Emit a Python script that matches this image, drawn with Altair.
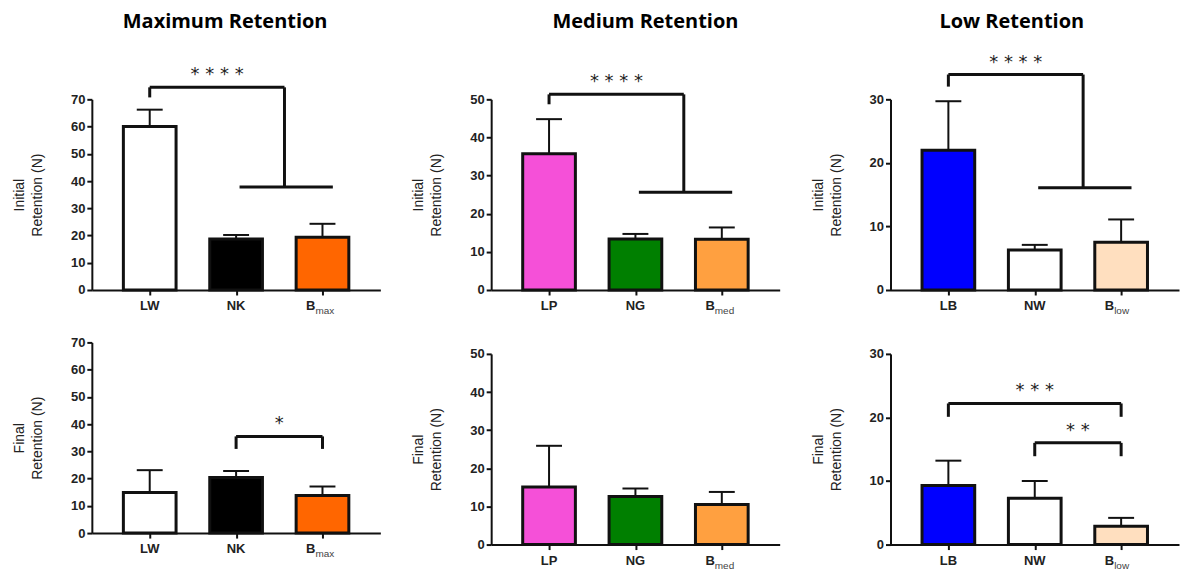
import altair as alt
import pandas as pd

# ---------------- data ----------------
# Maximum-retention attachments
max_groups = ["LW", "NK", "B"]
max_subs = ["", "", "max"]
max_colors = ["#FFFFFF", "#000000", "#FF6600"]
max_initial_mean = [60.0, 18.7, 19.4]
max_initial_sd = [6.2, 1.5, 4.9]
max_final_mean = [14.9, 20.4, 13.8]
max_final_sd = [8.2, 2.4, 3.3]

# Medium-retention attachments
med_groups = ["LP", "NG", "B"]
med_subs = ["", "", "med"]
med_colors = ["#F550D8", "#007F00", "#FFA040"]
med_initial_mean = [35.7, 13.4, 13.3]
med_initial_sd = [9.1, 1.3, 3.1]
med_final_mean = [15.1, 12.6, 10.5]
med_final_sd = [10.8, 2.1, 3.3]

# Low-retention attachments
low_groups = ["LB", "NW", "B"]
low_subs = ["", "", "low"]
low_colors = ["#0000FF", "#FFFFFF", "#FFDFBF"]
low_initial_mean = [22.0, 6.3, 7.5]
low_initial_sd = [7.7, 0.8, 3.6]
low_final_mean = [9.3, 7.3, 2.9]
low_final_sd = [3.9, 2.7, 1.3]

# significance: one group against the other two (label, group, top y, leg end y, base y)
max_initial_sig = [("****", 0, 74.4, 70.7, 37.8)]
med_initial_sig = [("****", 0, 51.3, 48.7, 25.6)]
low_initial_sig = [("****", 0, 33.9, 32.0, 16.1)]
# significance: pairwise (label, group a, group b, top y, leg end y)
max_final_pairs = [("*", 1, 2, 35.5, 30.9)]
med_final_pairs = []
low_final_pairs = [("***", 0, 2, 22.2, 20.1), ("**", 1, 2, 16.0, 13.9)]

# ---------------- styling ----------------
W, H = 289, 191
HALF = 0.305          # half bar width, in group units
CAP = 0.15            # half error-cap width
X_DOMAIN = [-0.67, 2.67]
TICK_FONT = "Liberation Sans"
TITLE_FONT = "Open Sans"
INK = "#111111"


def build_segments(one_vs_rest, pairs):
    segs, stars = [], []
    for label, g, y_top, y_leg, y_base in one_vs_rest:
        lo, hi = g + 1.04, g + 2.12
        mid = (lo + hi) / 2 - 0.02
        segs += [
            dict(x=g, x2=g, y=y_leg, y2=y_top),
            dict(x=g, x2=mid, y=y_top, y2=y_top),
            dict(x=mid, x2=mid, y=y_base, y2=y_top),
            dict(x=lo, x2=hi, y=y_base, y2=y_base),
        ]
        stars.append(dict(x=(g + mid) / 2, y=y_top, s=" ".join(label)))
    for label, a, b, y_top, y_leg in pairs:
        segs += [
            dict(x=a, x2=a, y=y_leg, y2=y_top),
            dict(x=a, x2=b, y=y_top, y2=y_top),
            dict(x=b, x2=b, y=y_leg, y2=y_top),
        ]
        stars.append(dict(x=(a + b) / 2, y=y_top, s=" ".join(label)))
    return pd.DataFrame(segs), pd.DataFrame(stars)


def panel(groups, subs, colors, means, sds, ymax, ytitle,
          one_vs_rest=(), pairs=(), title=None, title_x=0):
    df = pd.DataFrame({
        "pos": list(range(len(groups))), "group": groups, "sub": subs,
        "color": colors, "mean": means, "sd": sds,
    })
    df["left"] = df["pos"] - HALF
    df["right"] = df["pos"] + HALF
    df["zero"] = 0.0
    df["top"] = df["mean"] + df["sd"]
    df["cap_l"] = df["pos"] - CAP
    df["cap_r"] = df["pos"] + CAP

    xs = alt.Scale(domain=X_DOMAIN, nice=False, zero=False)
    ys = alt.Scale(domain=[0, ymax], nice=False, zero=True)
    x_axis = alt.Axis(values=[0, 1, 2], labels=False, title=None, grid=False,
                      tickSize=5, tickWidth=2, domainWidth=2,
                      domainColor=INK, tickColor=INK)
    y_axis = alt.Axis(values=list(range(0, ymax + 1, 10)), grid=False,
                      title=ytitle, titleFont=TICK_FONT, titleFontSize=14,
                      titleFontWeight="normal", titleColor="#222222",
                      titleLineHeight=18, titlePadding=26,
                      labelFont=TICK_FONT, labelFontSize=13,
                      labelFontWeight="bold", labelColor="#222222",
                      labelPadding=2, tickSize=5, tickWidth=2, domainWidth=2,
                      domainColor=INK, tickColor=INK)

    def X(field):
        return alt.X(field, type="quantitative", scale=xs, axis=x_axis)

    def Y(field):
        return alt.Y(field, type="quantitative", scale=ys, axis=y_axis)

    base = alt.Chart(df)
    bars = base.mark_bar(stroke=INK, strokeWidth=3).encode(
        x=X("left"), x2="right:Q", y=Y("mean"), y2="zero:Q",
        fill=alt.Fill("color:N", scale=None),
    )
    stems = base.mark_rule(color=INK, strokeWidth=2).encode(
        x=X("pos"), y=Y("mean"), y2="top:Q",
    )
    caps = base.mark_rule(color=INK, strokeWidth=2).encode(
        x=X("cap_l"), x2="cap_r:Q", y=Y("top"),
    )
    plain = base.transform_filter(alt.datum.sub == "").mark_text(
        font=TICK_FONT, fontSize=13, fontWeight="bold", color="#222222",
        baseline="middle", align="center",
    ).encode(x=X("pos"), y=alt.value(H + 16), text="group:N")
    main_b = base.transform_filter(alt.datum.sub != "").mark_text(
        font=TICK_FONT, fontSize=13, fontWeight="bold", color="#222222",
        baseline="middle", align="right", dx=-7,
    ).encode(x=X("pos"), y=alt.value(H + 16), text="group:N")
    sub_b = base.transform_filter(alt.datum.sub != "").mark_text(
        font=TICK_FONT, fontSize=10, fontWeight="normal", color="#444444",
        baseline="middle", align="left", dx=-7,
    ).encode(x=X("pos"), y=alt.value(H + 21), text="sub:N")

    layers = [bars, stems, caps, plain, main_b, sub_b]

    segs, stars = build_segments(one_vs_rest, pairs)
    if len(segs):
        layers.append(alt.Chart(segs).mark_rule(color=INK, strokeWidth=3,
                                                clip=False).encode(
            x=X("x"), x2="x2:Q", y=Y("y"), y2="y2:Q"))
        layers.append(alt.Chart(stars).mark_text(
            font="DejaVu Sans", fontSize=18, color="#222222",
            baseline="middle", dy=-12, clip=False).encode(
            x=X("x"), y=Y("y"), text="s:N"))
    if title:
        layers.append(alt.Chart(pd.DataFrame({"t": [title]})).mark_text(
            font=TITLE_FONT, fontSize=20, fontWeight="bold", color="#000000",
            baseline="middle", align="center").encode(
            x=alt.value(W / 2 + title_x), y=alt.value(-77), text="t:N"))

    return alt.layer(*layers).properties(width=W, height=H)


init_title = ["Initial", "Retention (N)"]
final_title = ["Final", "Retention (N)"]

col_max = alt.vconcat(
    panel(max_groups, max_subs, max_colors, max_initial_mean, max_initial_sd,
          70, init_title, one_vs_rest=max_initial_sig,
          title="Maximum Retention", title_x=-11),
    panel(max_groups, max_subs, max_colors, max_final_mean, max_final_sd,
          70, final_title, pairs=max_final_pairs),
    spacing=20.5,
)
col_med = alt.vconcat(
    panel(med_groups, med_subs, med_colors, med_initial_mean, med_initial_sd,
          50, init_title, one_vs_rest=med_initial_sig,
          title="Medium Retention", title_x=10),
    panel(med_groups, med_subs, med_colors, med_final_mean, med_final_sd,
          50, final_title, pairs=med_final_pairs),
    spacing=32,
)
col_low = alt.vconcat(
    panel(low_groups, low_subs, low_colors, low_initial_mean, low_initial_sd,
          30, init_title, one_vs_rest=low_initial_sig,
          title="Low Retention", title_x=-23),
    panel(low_groups, low_subs, low_colors, low_final_mean, low_final_sd,
          30, final_title, pairs=low_final_pairs),
    spacing=32,
)

chart = alt.hconcat(col_max, col_med, col_low, spacing=31).properties(
    padding={"left": 12, "top": 12, "right": 5, "bottom": 5},
    background="white",
).configure_view(stroke=None)

chart.save("out.html", embed_options={"renderer": "svg", "actions": False})
